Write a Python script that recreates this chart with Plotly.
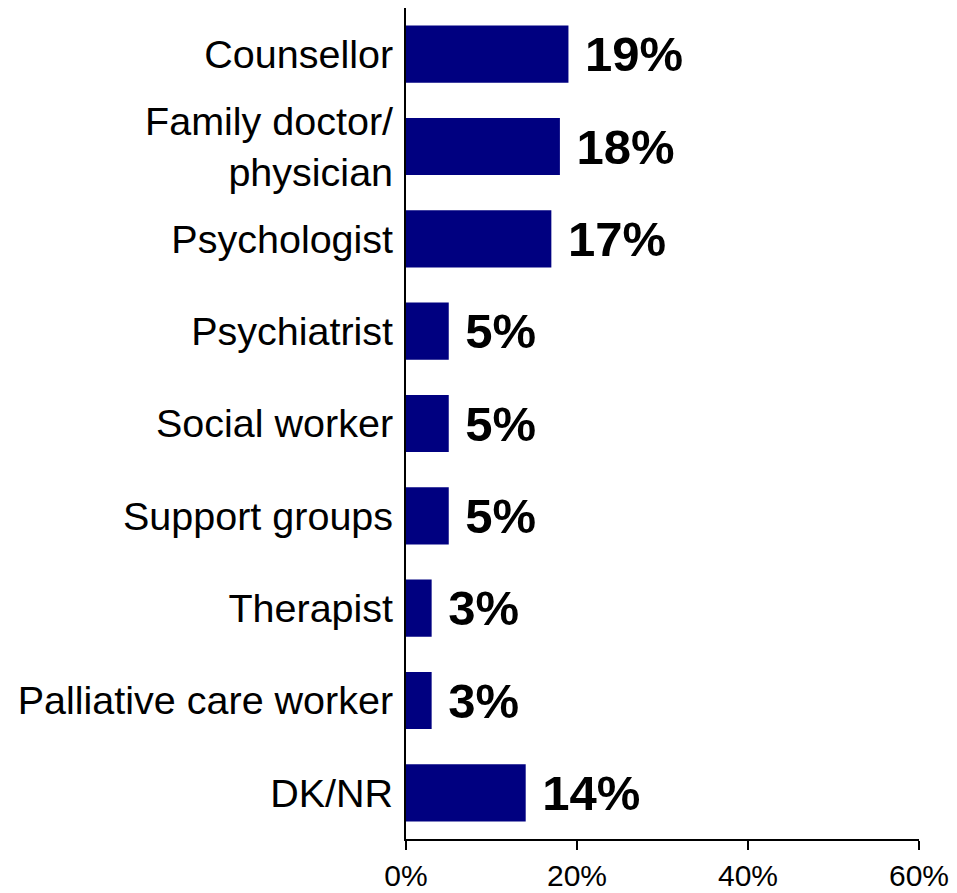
import plotly.graph_objects as go

categories = ["Counsellor", "Family doctor/<br>physician", "Psychologist", "Psychiatrist",
              "Social worker", "Support groups", "Therapist", "Palliative care worker", "DK/NR"]
values = [19, 18, 17, 5, 5, 5, 3, 3, 14]
tick_vals = [0, 20, 40, 60]
tick_text = ["0%", "20%", "40%", "60%"]

fig = go.Figure(go.Bar(
    y=categories, x=values, orientation="h",
    marker=dict(color="#000080", line=dict(width=0)),
    text=[f" {v}%" for v in values], textposition="outside",
    textfont=dict(family="Liberation Sans", size=49, color="black", weight="bold"),
    constraintext="none", cliponaxis=False,
))

fig.update_layout(
    width=957, height=893,
    margin=dict(l=398, r=46, t=0, b=62),
    paper_bgcolor="white", plot_bgcolor="white",
    bargap=0.38, showlegend=False,
    font=dict(family="Liberation Sans", color="black"),
)
fig.update_xaxes(range=[0, 60], tickvals=tick_vals, ticktext=tick_text,
                 showgrid=False, zeroline=False, showline=True, linecolor="black", linewidth=2,
                 ticks="outside", ticklen=9, tickwidth=2, tickcolor="black",
                 tickfont=dict(size=30, family="Liberation Sans"))
fig.update_yaxes(autorange="reversed", showgrid=False, zeroline=False, showline=True,
                 linecolor="black", linewidth=2, ticks="", ticklabelstandoff=3,
                 tickfont=dict(size=39.5, family="Liberation Sans"))

fig.write_html("out.html")
